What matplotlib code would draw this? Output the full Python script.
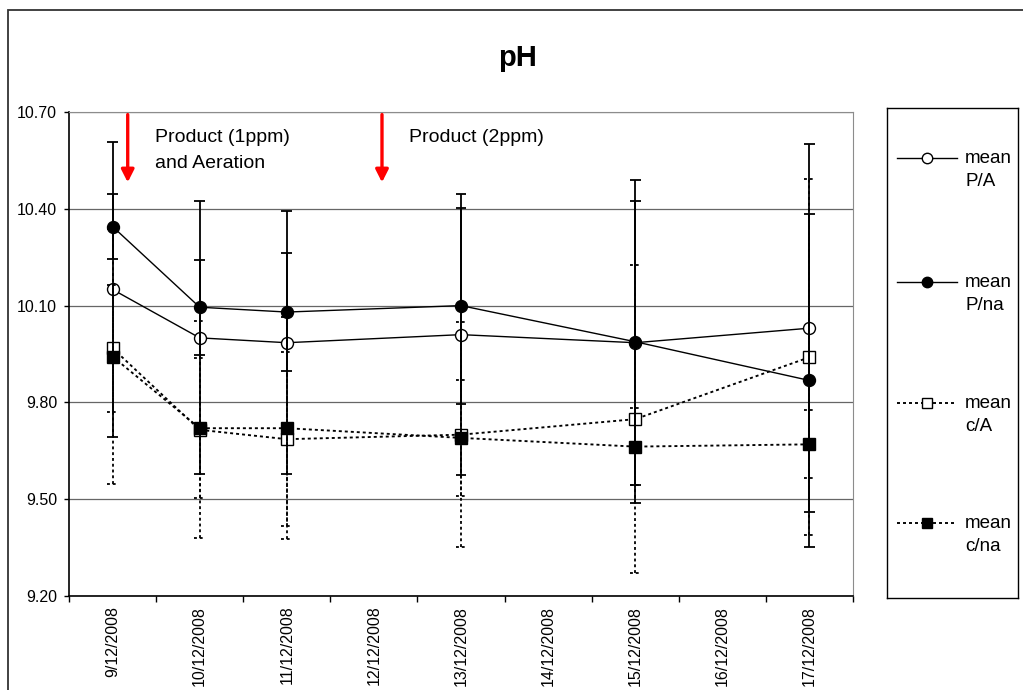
import numpy as np
import matplotlib
matplotlib.use("Agg")
import matplotlib.pyplot as plt
from matplotlib.patches import Rectangle

plt.rcParams['font.family'] = ['Liberation Sans', 'DejaVu Sans']

# categories on the x axis (every day, only some were sampled)
dates = ['9/12/2008', '10/12/2008', '11/12/2008', '12/12/2008', '13/12/2008',
         '14/12/2008', '15/12/2008', '16/12/2008', '17/12/2008']
sampled = ['9/12/2008', '10/12/2008', '11/12/2008', '13/12/2008', '15/12/2008', '17/12/2008']

mean_PA = [10.15, 10.00, 9.985, 10.01, 9.985, 10.03]
sd_PA = [0.457, 0.423, 0.408, 0.435, 0.44, 0.57]
mean_Pna = [10.345, 10.095, 10.08, 10.10, 9.988, 9.868]
sd_Pna = [0.10, 0.147, 0.182, 0.304, 0.50, 0.517]
mean_cA = [9.968, 9.715, 9.686, 9.70, 9.748, 9.94]
sd_cA = [0.197, 0.336, 0.27, 0.349, 0.477, 0.551]
mean_cna = [9.942, 9.72, 9.72, 9.69, 9.663, 9.67]
sd_cna = [0.396, 0.217, 0.344, 0.18, 0.12, 0.105]

labels = ['mean\nP/A', 'mean\nP/na', 'mean\nc/A', 'mean\nc/na']
yticks = [9.20, 9.50, 9.80, 10.10, 10.40, 10.70]

events = [('9/12/2008', 0.174, 'Product (1ppm)\nand Aeration'),
          ('12/12/2008', 0.093, 'Product (2ppm)')]

DOT = (0, (1.6, 1.6))
styles = [
    dict(ls='-', marker='o', mfc='white', lw=1.0),
    dict(ls='-', marker='o', mfc='black', lw=1.0),
    dict(ls=DOT, marker='s', mfc='white', lw=1.35),
    dict(ls=DOT, marker='s', mfc='black', lw=1.35),
]
series = [(mean_PA, sd_PA), (mean_Pna, sd_Pna), (mean_cA, sd_cA), (mean_cna, sd_cna)]

fig = plt.figure(figsize=(10.23, 6.90), dpi=100)
ax = fig.add_axes([69 / 1023, 94 / 690, 784 / 1023, 484 / 690])

xs = np.array([dates.index(d) for d in sampled])
capw = 0.063

for (m, s), st in zip(series, styles):
    m = np.array(m); s = np.array(s)
    ax.plot(xs, m, color='black', lw=st['lw'], ls=st['ls'], zorder=3)
    ax.plot(xs, m, ls='none', marker=st['marker'], ms=8.6 if st['marker'] == 'o' else 8.4,
            mfc=st['mfc'], mec='black', mew=1.0, zorder=4)
    ax.vlines(xs, m - s, m + s, colors='black', lw=1.3, linestyles=st['ls'], zorder=5)
    ax.hlines(np.concatenate([m - s, m + s]), np.concatenate([xs, xs]) - capw,
              np.concatenate([xs, xs]) + capw, colors='black', lw=1.3,
              linestyles=st['ls'], zorder=5)

ax.set_xlim(-0.5, len(dates) - 0.5)
ax.set_ylim(9.20, 10.70)
ax.set_yticks(yticks)
ax.set_yticklabels(['%.2f' % v for v in yticks])
ax.set_xticks(np.arange(len(dates) + 1) - 0.5)
ax.set_xticklabels([])
ax.set_xticks(np.arange(len(dates)), minor=True)
ax.set_xticklabels(dates, minor=True, rotation=90, fontsize=11.5)
ax.tick_params(axis='x', which='minor', length=0, pad=7)
ax.tick_params(axis='x', which='major', length=4.5, width=1, direction='out')
ax.tick_params(axis='y', length=3.5, width=1, direction='out', pad=5, labelsize=11.5)
ax.yaxis.grid(True, color='#666666', lw=0.9)
ax.set_axisbelow(True)
for side in ['top', 'right']:
    ax.spines[side].set_color('#8c8c8c')
for side in ['left', 'bottom']:
    ax.spines[side].set_linewidth(1.2)

# treatment markers (baseline given for the last text line)
for d, off, txt in events:
    x0 = dates.index(d) + off
    ax.annotate('', xy=(x0, 10.482), xytext=(x0, 10.692),
                arrowprops=dict(arrowstyle='-|>,head_length=0.75,head_width=0.38',
                                color='red', lw=2.4, shrinkA=0, shrinkB=0))
    ybase = 10.608 - 0.0827 * txt.count('\n')
    ax.text(x0 + 0.315, ybase, txt, fontsize=14, va='baseline', ha='left',
            linespacing=1.75)

fig.text(518 / 1023, 1 - 58 / 690, 'pH', fontsize=21, fontweight='bold',
         ha='center', va='center')

# legend box
lax = fig.add_axes([887 / 1023, 92 / 690, 131 / 1023, 490 / 690])
lax.set_xlim(887, 1018)
lax.set_ylim(598, 108)
lax.set_xticks([]); lax.set_yticks([])
for sp in lax.spines.values():
    sp.set_linewidth(1.0)
for yy, lab, st in zip([158, 282, 403, 523], labels, styles):
    lax.plot([897, 957], [yy, yy], color='black', lw=st['lw'], ls=st['ls'])
    lax.plot([927], [yy], ls='none', marker=st['marker'], ms=7.5 if st['marker'] == 'o' else 7.8,
             mfc=st['mfc'], mec='black', mew=1.0)
    lax.text(965, yy + 28, lab, fontsize=13.5, va='baseline', ha='left', linespacing=1.45)

# chart area border
fig.patches.append(Rectangle((8 / 1023, -0.1), 1.2, 1 - 10 / 690 + 0.1,
                             transform=fig.transFigure, fill=False,
                             ec='#333333', lw=1.3))

fig.savefig('out.png', dpi=100)
